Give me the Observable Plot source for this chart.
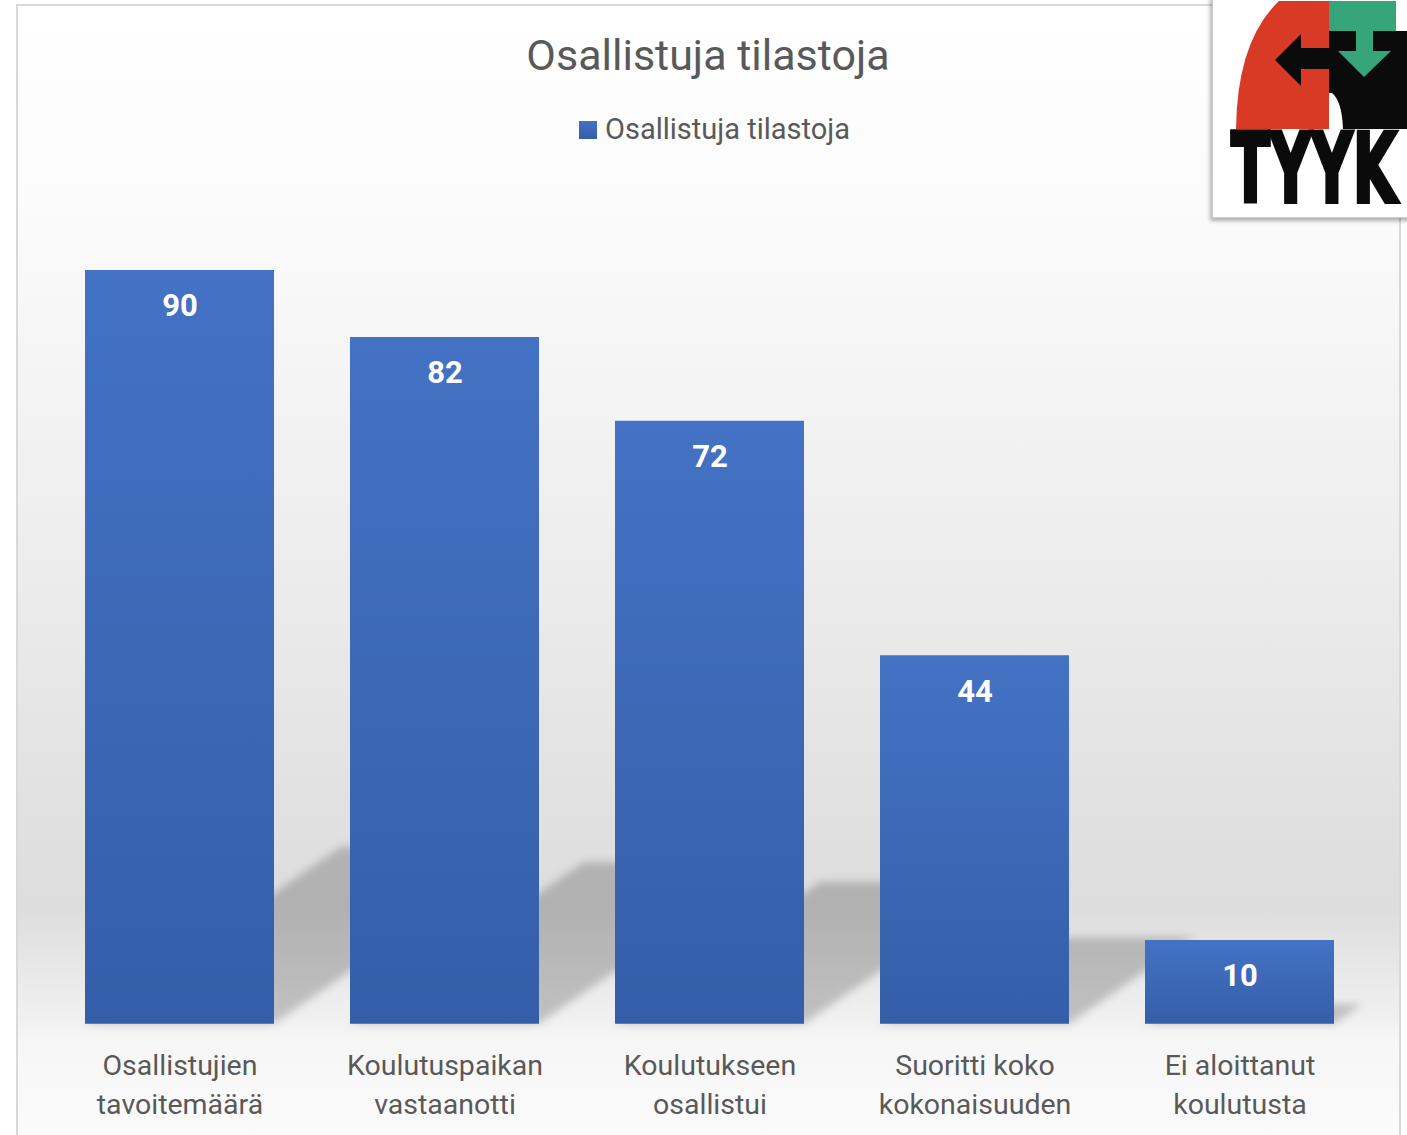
<!DOCTYPE html>
<html>
<head>
<meta charset="utf-8">
<script src="https://cdn.jsdelivr.net/npm/d3@7"></script>
<script src="https://cdn.jsdelivr.net/npm/@observablehq/plot@0.6"></script>
<style>
html, body { margin: 0; padding: 0; background: #ffffff; }
#page { position: relative; width: 1407px; height: 1135px; overflow: hidden; background: #ffffff; font-family: Roboto, "Open Sans", sans-serif; }
#frame { position: absolute; left: 16px; top: 4px; width: 1385px; height: 1160px; box-sizing: border-box; border: 2px solid #d9d9d9;
  background: linear-gradient(to bottom, #ffffff 0px, #fbfbfb 200px, #efefef 500px, #e1e1e1 800px, #dddddd 900px, #f1f1f1 1016px, #f6f6f6 1032px, #fbfbfb 1135px); }
#title { position: absolute; left: 0; width: 1416px; top: 34px; text-align: center; font-size: 43px; line-height: 43px; color: #595959; white-space: nowrap; }
#legend { position: absolute; left: 579px; top: 115px; height: 29px; display: flex; align-items: center; white-space: nowrap; }
#legend .sw { width: 18px; height: 18px; background: linear-gradient(to bottom, #4472c4, #345ea8); margin-right: 8px; }
#legend .lb { font-size: 29px; line-height: 29px; color: #595959; }
#chart { position: absolute; left: 0; top: 150px; }
#logo { position: absolute; left: 1212px; top: -5px; width: 210px; height: 223px; background: #ffffff; border: 1px solid #cfcfcf; box-sizing: border-box; box-shadow: -2px 3px 4px rgba(0,0,0,0.3); overflow: hidden; }
</style>
</head>
<body>
<div id="page">
  <div id="frame"></div>
  <div id="title">Osallistuja tilastoja</div>
  <div id="legend"><div class="sw"></div><div class="lb">Osallistuja tilastoja</div></div>
  <div id="chart"></div>
  <div id="logo">
    <svg width="210" height="223" viewBox="1212 -5 210 223" xmlns="http://www.w3.org/2000/svg">
      <path d="M1278,0 Q1236,40 1235,128 L1328,128 L1328,0 Z" fill="#d93a26"/>
      <rect x="1328" y="0" width="67" height="30" fill="#36a57a"/>
      <path d="M1328,30 L1420,30 L1420,128 L1342,128 Q1341,100 1331,92 L1328,92 Z" fill="#0b0b0b"/>
      <rect x="1395" y="0" width="30" height="30" fill="#ffffff"/>
      <path d="M1355,28 L1372,28 L1372,50 L1390,50 L1363,76 L1337,50 L1355,50 Z" fill="#36a57a"/>
      <path d="M1274,59 L1300,33 L1300,47 L1330,47 L1330,68 L1300,68 L1300,85 Z" fill="#0b0b0b"/>
      <text x="1230" y="201" font-family="DejaVu Sans" font-weight="bold" font-size="96" textLength="166" lengthAdjust="spacingAndGlyphs" fill="#0b0b0b" stroke="#0b0b0b" stroke-width="4">TYYK</text>
    </svg>
  </div>
</div>
<script>
// ---- data ----
const categories = [
  "Osallistujien\ntavoitemäärä",
  "Koulutuspaikan\nvastaanotti",
  "Koulutukseen\nosallistui",
  "Suoritti koko\nkokonaisuuden",
  "Ei aloittanut\nkoulutusta"
];
const counts = [90, 82, 72, 44, 10];

const data = categories.map((c, i) => ({cat: c, n: counts[i]}));

// perspective shadow + defs, drawn through the plot's scales
function shadowMark(index, scales, channels, dimensions, context) {
  const g = d3.create("svg:g");
  const defs = g.append("defs");
  const f = defs.append("filter").attr("id", "shBlur")
    .attr("x", "-30%").attr("y", "-30%").attr("width", "160%").attr("height", "160%");
  f.append("feGaussianBlur").attr("stdDeviation", 4);
  const lg = defs.append("linearGradient").attr("id", "barGrad")
    .attr("x1", 0).attr("y1", 0).attr("x2", 0).attr("y2", 1);
  lg.append("stop").attr("offset", "0%").attr("stop-color", "#4472c4");
  lg.append("stop").attr("offset", "100%").attr("stop-color", "#345ea8");
  const x = scales.x, y = scales.y;
  const bw = x.bandwidth();
  const y0 = y(0);
  const polys = data.map(d => {
    const x0 = x(d.cat), x1 = x0 + bw, h = y0 - y(d.n);
    const dx = 0.34 * h, dy = 0.235 * h;
    return [[x0, y0], [x1, y0], [x1 + dx, y0 - dy], [x0 + dx, y0 - dy]];
  });
  g.selectAll("polygon").data(polys).join("polygon")
    .attr("points", p => p.map(q => q.join(",")).join(" "))
    .attr("fill", "#000").attr("fill-opacity", 0.2)
    .attr("filter", "url(#shBlur)");
  return g.node();
}

const chart = Plot.plot({
  width: 1407,
  height: 985,
  marginLeft: 47,
  marginRight: 35,
  marginTop: 120,
  marginBottom: 111.25,
  style: {background: "transparent", fontFamily: "Roboto, 'Open Sans', sans-serif", overflow: "visible"},
  x: {domain: categories, paddingInner: 0.287, paddingOuter: 0.1435, axis: null},
  y: {domain: [0, 90], axis: null},
  marks: [
    shadowMark,
    Plot.barY(data, {x: "cat", y: "n", fill: "url(#barGrad)"}),
    Plot.text(data, {x: "cat", y: "n", text: d => String(d.n), dy: 36, lineAnchor: "middle",
      fill: "white", fontWeight: "bold", fontSize: 31}),
    Plot.text(data, {x: "cat", y: 0, text: "cat", dy: 23, lineAnchor: "top", lineHeight: 1.368,
      fill: "#595959", fontSize: 28.5})
  ]
});
document.getElementById("chart").appendChild(chart);
</script>
</body>
</html>
